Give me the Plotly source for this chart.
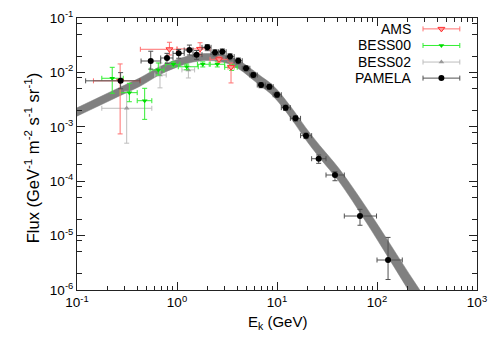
import plotly.graph_objects as go

# ---------------- data ----------------
# PAMELA
pam_e = [0.273, 0.546, 0.794, 1.04, 1.33, 1.57, 2.01, 2.40, 2.84, 3.39, 4.10, 4.90, 5.80,
         6.92, 8.38, 10.0, 12.2, 15.3, 19.5, 26.1, 38.0, 67.6, 129.0]
pam_e_lo = [0.122, 0.437, 0.687, 0.912, 1.18, 1.445, 1.778, 2.19, 2.61, 3.10, 3.73, 4.49, 5.35,
            6.35, 7.62, 9.16, 11.04, 13.6, 17.2, 22.2, 30.9, 47.1, 100.0]
pam_e_hi = [0.427, 0.687, 0.912, 1.18, 1.445, 1.778, 2.19, 2.61, 3.10, 3.73, 4.49, 5.35, 6.35,
            7.62, 9.16, 11.04, 13.6, 17.2, 22.2, 30.9, 47.1, 98.9, 179.0]
pam_flux = [7.0e-3, 0.0162, 0.0184, 0.0224, 0.0258, 0.0212, 0.0289, 0.0231, 0.0240, 0.0195,
            0.0164, 0.0119, 8.96e-3, 5.87e-3, 5.47e-3, 3.89e-3, 2.25e-3, 1.43e-3, 6.87e-4,
            2.59e-4, 1.30e-4, 2.29e-5, 3.56e-6]
pam_err_up = [2.9e-3, 8.3e-3, 4.0e-3, 4.0e-3, 6.0e-3, 4.0e-3, 3.5e-3, 3.0e-3, 3.0e-3, 2.5e-3,
              2.0e-3, 1.3e-3, 1.0e-3, 6.5e-4, 6.0e-4, 4.2e-4, 2.5e-4, 1.6e-4, 8.0e-5,
              4.4e-5, 2.0e-5, 7.5e-6, 5.7e-6]
pam_err_dn = [2.0e-3, 4.7e-3, 3.7e-3, 4.2e-3, 4.9e-3, 3.8e-3, 3.8e-3, 3.0e-3, 3.0e-3, 2.5e-3,
              2.0e-3, 1.3e-3, 1.0e-3, 6.5e-4, 6.0e-4, 4.2e-4, 2.5e-4, 1.6e-4, 8.0e-5,
              4.6e-5, 2.8e-5, 7.4e-6, 2.0e-6]

# AMS
ams_e = [0.27, 0.84, 1.70, 2.63, 3.47]
ams_e_lo = [0.146, 0.43, 1.0, 2.14, 3.24]
ams_e_hi = [0.43, 1.0, 2.14, 3.24, 3.73]
ams_flux = [7.0e-3, 0.0266, 0.027, 0.0174, 0.0125]
ams_err_up = [7.3e-3, 9.2e-3, 8.1e-3, 2.0e-3, 2.4e-3]
ams_err_dn = [6.26e-3, 5.7e-3, 6.1e-3, 2.0e-3, 6.1e-3]

# BESS00
b0_e = [0.225, 0.334, 0.475, 0.65, 0.92, 1.25, 1.81, 2.53, 3.52]
b0_e_lo = [0.177, 0.27, 0.40, 0.537, 0.77, 1.03, 1.6, 2.15, 3.0]
b0_e_hi = [0.29, 0.40, 0.56, 0.74, 1.07, 1.63, 2.1, 3.0, 4.0]
b0_flux = [7.8e-3, 4.24e-3, 3.02e-3, 0.0111, 0.0141, 0.0127, 0.0141, 0.0141, 0.0124]
b0_err_up = [4.6e-3, 2.06e-3, 2.08e-3, 3.8e-3, 1.5e-3, 1.5e-3, 1.5e-3, 1.5e-3, 1.5e-3]
b0_err_dn = [3.66e-3, 1.35e-3, 1.65e-3, 2.15e-3, 1.5e-3, 1.5e-3, 1.5e-3, 1.5e-3, 1.5e-3]

# BESS02
b2_e = [0.314, 0.676, 1.30]
b2_e_lo = [0.177, 0.60, 1.12]
b2_e_hi = [0.56, 0.78, 1.5]
b2_flux = [2.19e-3, 8.95e-3, 0.0111]
b2_err_up = [2.3e-3, 5.9e-3, 1.7e-3]
b2_err_dn = [1.69e-3, 3.75e-3, 3.2e-3]

# model band (upper / lower edges)
band_e = [0.1, 0.17, 0.269, 0.427, 0.676, 1.0, 1.445, 2.14, 3.16, 4.27, 5.75, 7.08, 8.51,
          10.0, 12.3, 15.1, 19.5, 26.9, 41.7, 79.4, 234.0, 427.0]
band_hi = [2.23e-3, 3.56e-3, 5.32e-3, 7.96e-3, 1.28e-2, 1.73e-2, 2.10e-2, 2.23e-2, 2.03e-2,
           1.60e-2, 1.10e-2, 8.22e-3, 6.44e-3, 4.83e-3, 3.05e-3, 1.85e-3, 9.5e-4, 4.48e-4,
           1.71e-4, 3.15e-5, 1.46e-6, 2.81e-7]
band_lo = [1.57e-3, 2.49e-3, 3.73e-3, 5.57e-3, 9.14e-3, 1.25e-2, 1.55e-2, 1.65e-2, 1.47e-2,
           1.12e-2, 7.31e-3, 5.40e-3, 4.15e-3, 3.05e-3, 1.90e-3, 1.135e-3, 5.71e-4, 2.65e-4,
           9.86e-5, 1.67e-5, 6.84e-7, 1.21e-7]

x_tick_vals = [0.1, 1, 10, 100, 1000]
x_tick_text = ["10<sup>-1</sup>", "10<sup>0</sup>", "10<sup>1</sup>", "10<sup>2</sup>", "10<sup>3</sup>"]
y_tick_vals = [1e-6, 1e-5, 1e-4, 1e-3, 1e-2, 1e-1]
y_tick_text = ["10<sup>-6</sup>", "10<sup>-5</sup>", "10<sup>-4</sup>", "10<sup>-3</sup>",
               "10<sup>-2</sup>", "10<sup>-1</sup>"]

legend_names = ["AMS", "BESS00", "BESS02", "PAMELA"]

# ---------------- figure ----------------
FONT = "Liberation Sans, Arial, Helvetica, sans-serif"
fig = go.Figure()

# band
fig.add_trace(go.Scatter(x=band_e, y=band_lo, mode="lines", line=dict(color="#808080", width=0.5, shape="spline"),
                         hoverinfo="skip"))
fig.add_trace(go.Scatter(x=band_e, y=band_hi, mode="lines", line=dict(color="#808080", width=0.5, shape="spline"),
                         fill="tonexty", fillcolor="#808080", hoverinfo="skip"))


def err_trace(e, lo, hi, f, up, dn, color, ecolor, symbol, size, line_color=None):
    return go.Scatter(
        x=e, y=f, mode="markers",
        marker=dict(symbol=symbol, size=size, color=color,
                    line=dict(color=line_color or color, width=1 if line_color else 0)),
        error_x=dict(type="data", symmetric=False,
                     array=[h - c for h, c in zip(hi, e)],
                     arrayminus=[c - l for l, c in zip(lo, e)],
                     color=ecolor, thickness=1, width=2.5),
        error_y=dict(type="data", symmetric=False, array=up, arrayminus=dn,
                     color=ecolor, thickness=1, width=2.5),
    )


SERIES_STYLE = {
    "BESS02": dict(color="#9a9a9a", ecolor="#bdbdbd", symbol="triangle-up", size=5),
    "BESS00": dict(color="#00dd00", ecolor="#33ee33", symbol="triangle-down", size=5),
    "AMS": dict(color="#ff9a9a", ecolor="#ff7070", symbol="triangle-down", size=6, line_color="#ff3030"),
    "PAMELA": dict(color="#000000", ecolor="#505050", symbol="circle", size=6),
}

fig.add_trace(err_trace(b2_e, b2_e_lo, b2_e_hi, b2_flux, b2_err_up, b2_err_dn, **SERIES_STYLE["BESS02"]))
fig.add_trace(err_trace(b0_e, b0_e_lo, b0_e_hi, b0_flux, b0_err_up, b0_err_dn, **SERIES_STYLE["BESS00"]))
fig.add_trace(err_trace(ams_e, ams_e_lo, ams_e_hi, ams_flux, ams_err_up, ams_err_dn, **SERIES_STYLE["AMS"]))
fig.add_trace(err_trace(pam_e, pam_e_lo, pam_e_hi, pam_flux, pam_err_up, pam_err_dn, **SERIES_STYLE["PAMELA"]))

# manual legend (text left, sample right) on an overlay axis
leg_rows = [0.960, 0.899, 0.838, 0.779]
for name, yy in zip(legend_names, leg_rows):
    st = SERIES_STYLE[name]
    fig.add_trace(go.Scatter(
        x=[0.911], y=[yy], xaxis="x2", yaxis="y2", mode="markers",
        marker=dict(symbol=st["symbol"], size=st["size"], color=st["color"],
                    line=dict(color=st.get("line_color") or st["color"], width=1 if st.get("line_color") else 0)),
        error_x=dict(type="data", array=[0.046], color=st["ecolor"], thickness=1, width=2.5),
        hoverinfo="skip"))
    fig.add_annotation(x=0.84, y=yy, xref="paper", yref="paper", text=name, showarrow=False,
                       xanchor="right", yanchor="middle", font=dict(size=14, color="black", family=FONT))

# axis titles
fig.add_annotation(x=0.5, y=-0.12, xref="paper", yref="paper", text="E<sub>k</sub> (GeV)",
                   showarrow=False, xanchor="center", yanchor="middle",
                   font=dict(size=15, color="black", family=FONT))
fig.add_annotation(x=-0.112, y=0.485, xref="paper", yref="paper",
                   text="Flux (GeV<sup>-1</sup> m<sup>-2</sup> s<sup>-1</sup> sr<sup>-1</sup>)",
                   textangle=-90, showarrow=False, xanchor="center", yanchor="middle",
                   font=dict(size=16.5, color="black", family=FONT))

x_minor = [m * 10 ** p for p in range(-1, 3) for m in range(2, 10)]
y_minor = [m * 10 ** p for p in range(-6, -1) for m in (2, 5, 8)]

axis_common = dict(type="log", showline=True, linecolor="#222222", linewidth=1, mirror="ticks",
                   ticks="inside", ticklen=8, tickcolor="#222222", tickwidth=1,
                   showgrid=False, zeroline=False, automargin=False,
                   tickfont=dict(size=13.5, color="black", family=FONT))

fig.update_layout(
    width=498, height=349,
    margin=dict(l=77, r=21, t=18, b=59, autoexpand=False),
    paper_bgcolor="white", plot_bgcolor="white",
    showlegend=False,
    font=dict(family=FONT, color="black"),
    xaxis=dict(range=[-1, 3], tickmode="array", tickvals=x_tick_vals, ticktext=x_tick_text,
               minor=dict(tickmode="array", tickvals=x_minor, ticks="inside", ticklen=4,
                          tickcolor="#222222", showgrid=False),
               **axis_common),
    yaxis=dict(range=[-6, -1], tickmode="array", tickvals=y_tick_vals, ticktext=y_tick_text,
               minor=dict(tickmode="array", tickvals=y_minor, ticks="inside", ticklen=5,
                          tickcolor="#222222", showgrid=False),
               **axis_common),
    xaxis2=dict(range=[0, 1], overlaying="x", visible=False, fixedrange=True),
    yaxis2=dict(range=[0, 1], overlaying="y", visible=False, fixedrange=True),
)

fig.write_html("out.html", config={"displayModeBar": False},
               post_script="document.body.style.margin='0px';")
